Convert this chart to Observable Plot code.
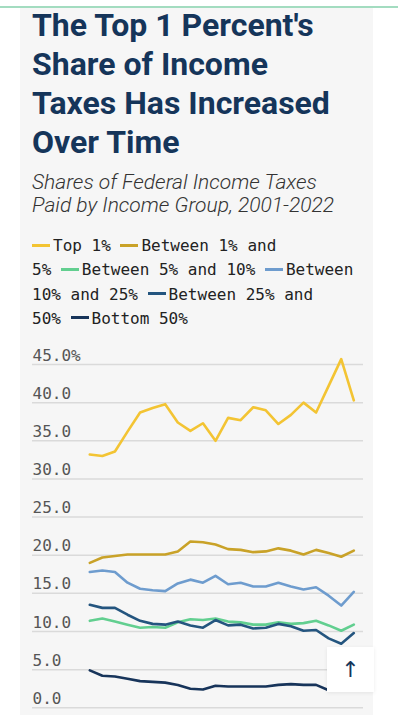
<!DOCTYPE html>
<html>
<head>
<meta charset="utf-8">
<script src="https://cdn.jsdelivr.net/npm/d3@7"></script>
<script src="https://cdn.jsdelivr.net/npm/@observablehq/plot@0.6"></script>
<style>
  html, body { margin: 0; padding: 0; background: #fff; width: 398px; height: 720px; overflow: hidden; }
  .topline { position: absolute; left: 0; top: 6px; width: 398px; height: 1.5px; background: #a3dcc0; }
  .panel { position: absolute; left: 20px; top: 8px; width: 353px; height: 707px; background: #f6f6f6; }
  .title { position: absolute; left: 32px; top: 6px; width: 345px; margin: 0; font-family: Roboto, sans-serif; font-weight: 700; font-size: 32px; line-height: 39px; color: #15355a; white-space: nowrap; }
  .subtitle { position: absolute; left: 32px; top: 171px; width: 345px; margin: 0; font-family: Roboto, sans-serif; font-style: italic; font-weight: 300; font-size: 21px; line-height: 23px; color: #333; white-space: nowrap; }
  .legend { position: absolute; left: 32px; top: 234px; width: 332px; font-family: "DejaVu Sans Mono", monospace; font-size: 16px; line-height: 24.3px; color: #222; }
  .legend span { white-space: nowrap; }
  .legend .nw { padding-left: 21px; background-repeat: no-repeat; background-size: 18px 3px; background-position: 0 7.5px; }
  .legend .nw.next { margin-left: 9.6px; }
  .chart { position: absolute; left: 20px; top: 335px; }
  .btn { position: absolute; left: 327px; top: 647px; width: 47px; height: 45px; background: #fff; box-shadow: 0 1px 4px rgba(0,0,0,0.08); display: flex; align-items: center; justify-content: center; font-family: "DejaVu Sans", sans-serif; font-size: 22px; color: #15355a; }
</style>
</head>
<body>
<div class="topline"></div>
<div class="panel"></div>
<h1 class="title">The Top 1 Percent's<br>Share of Income<br>Taxes Has Increased<br>Over Time</h1>
<p class="subtitle">Shares of Federal Income Taxes<br>Paid by Income Group, 2001-2022</p>
<div class="legend" id="legend"></div>
<div class="chart" id="chart"></div>
<div class="btn">↑</div>
<script>
const years = [2001,2002,2003,2004,2005,2006,2007,2008,2009,2010,2011,2012,2013,2014,2015,2016,2017,2018,2019,2020,2021,2022];
const groups = ["Top 1%", "Between 1% and 5%", "Between 5% and 10%", "Between 10% and 25%", "Between 25% and 50%", "Bottom 50%"];
const colors = ["#f3c433", "#c9a228", "#62cf90", "#6e9cce", "#24557f", "#17345a"];
const top1 =      [33.2,33.0,33.6,36.2,38.7,39.3,39.8,37.4,36.3,37.3,35.0,38.0,37.7,39.4,39.0,37.2,38.4,40.0,38.7,42.2,45.7,40.3];
const p1to5 =     [19.0,19.7,19.9,20.1,20.1,20.1,20.1,20.5,21.8,21.7,21.4,20.8,20.7,20.4,20.5,20.9,20.6,20.1,20.7,20.3,19.8,20.6];
const p5to10 =    [11.4,11.7,11.3,10.9,10.5,10.6,10.5,11.2,11.6,11.5,11.7,11.3,11.2,10.9,10.9,11.2,11.0,11.1,11.4,10.8,10.1,10.9];
const p10to25 =   [17.8,18.0,17.8,16.4,15.6,15.4,15.3,16.3,16.8,16.4,17.3,16.2,16.4,15.9,15.9,16.4,15.9,15.5,15.8,14.7,13.4,15.2];
const p25to50 =   [13.5,13.1,13.1,12.2,11.4,11.0,10.9,11.3,10.8,10.5,11.5,10.8,10.9,10.4,10.5,11.0,10.7,10.1,10.2,9.1,8.4,9.8];
const bottom50 =  [4.9,4.2,4.1,3.8,3.5,3.4,3.3,3.0,2.5,2.4,2.9,2.8,2.8,2.8,2.8,3.0,3.1,3.0,3.0,2.3,2.3,2.3];
const yTicks = [0,5,10,15,20,25,30,35,40,45];
const yTickLabels = ["0.0","5.0","10.0","15.0","20.0","25.0","30.0","35.0","40.0","45.0%"];

const seriesValues = [top1, p1to5, p5to10, p10to25, p25to50, bottom50];
const rows = [];
groups.forEach((g, gi) => years.forEach((yr, i) => rows.push({group: g, year: yr, value: seriesValues[gi][i]})));

// Legend: one span per word; a swatch stays glued to the previous word and to its own first word
const legend = document.getElementById("legend");
legend.innerHTML = groups.map((lab, i) => {
  const w = lab.split(" ");
  const first = `<span class="nw${i > 0 ? " next" : ""}" style="background-image:linear-gradient(${colors[i]},${colors[i]})">${w[0]}</span>`;
  return first + w.slice(1).map(x => ` <span>${x}</span>`).join("");
}).join("");

const chart = Plot.plot({
  width: 353,
  height: 380,
  marginLeft: 12,
  marginRight: 10,
  marginTop: 0,
  marginBottom: 0,
  style: {background: "transparent", fontFamily: "DejaVu Sans Mono, monospace", fontSize: "16px"},
  x: {domain: [2001, 2022], range: [69.3, 333.3], axis: null},
  y: {domain: [0, 45], range: [372.3, 29], axis: null},
  color: {domain: groups, range: colors},
  marks: [
    Plot.ruleY(yTicks, {stroke: "#dadada", strokeWidth: 1.5}),
    Plot.text(yTicks, {y: d => d, text: (d, i) => yTickLabels[i], frameAnchor: "left", textAnchor: "start", lineAnchor: "bottom", dy: -4, fill: "#555", fontSize: 16}),
    Plot.line(rows, {x: "year", y: "value", z: "group", stroke: "group", strokeWidth: 2.6, strokeLinejoin: "round"})
  ]
});
document.getElementById("chart").appendChild(chart);
</script>
</body>
</html>
